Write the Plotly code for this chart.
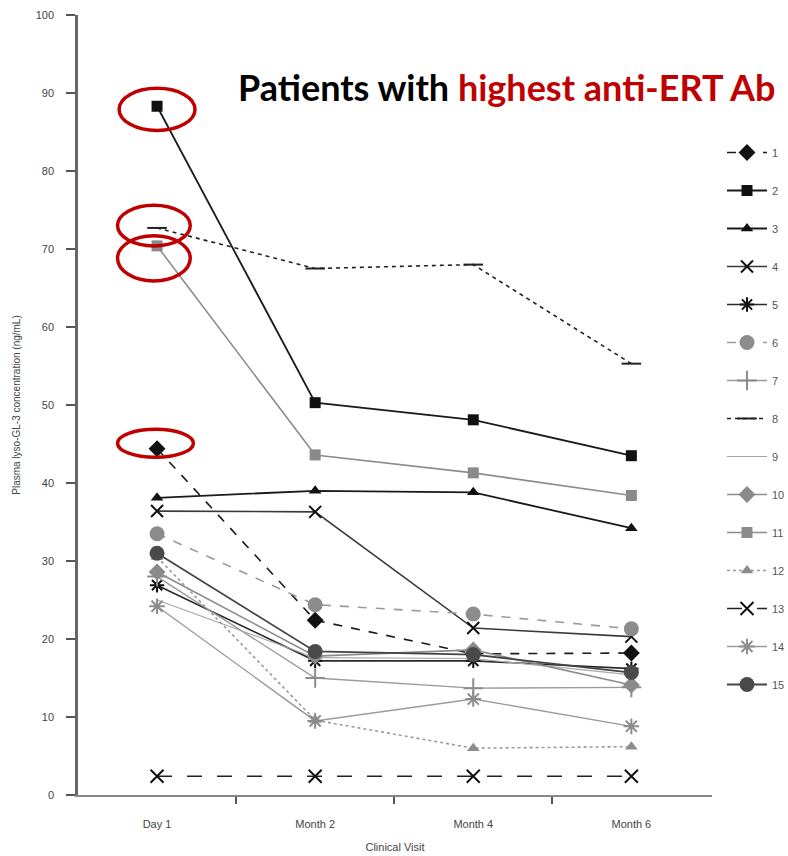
import plotly.graph_objects as go

visits = ["Day 1", "Month 2", "Month 4", "Month 6"]
patient_labels = ["1", "2", "3", "4", "5", "6", "7", "8", "9", "10", "11", "12", "13", "14", "15"]

p1 = [44.4, 22.4, 18.1, 18.2]
p2 = [88.3, 50.3, 48.1, 43.5]
p3 = [38.1, 39.0, 38.8, 34.2]
p4 = [36.4, 36.3, 21.4, 20.3]
p5 = [26.9, 17.2, 17.2, 16.2]
p6 = [33.5, 24.4, 23.2, 21.3]
p7 = [28.0, 15.0, 13.7, 13.8]
p8 = [72.7, 67.5, 68.0, 55.3]
p9 = [25.0, 17.6, 17.5, 15.4]
p10 = [28.6, 17.8, 18.6, 14.1]
p11 = [70.4, 43.6, 41.3, 38.4]
p12 = [30.5, 9.6, 6.0, 6.2]
p13 = [2.4, 2.4, 2.4, 2.4]
p14 = [24.2, 9.5, 12.3, 8.8]
p15 = [31.0, 18.4, 18.0, 15.7]

values = [p1, p2, p3, p4, p5, p6, p7, p8, p9, p10, p11, p12, p13, p14, p15]

# style per patient: (line colour, dash, line width, marker symbol, marker colour, marker size)
styles = [
    ("#1a1a1a", "dash", 1.6, "diamond", "#111111", 13),
    ("#1a1a1a", "solid", 1.8, "square", "#111111", 11),
    ("#1a1a1a", "solid", 1.8, "triangle-up", "#111111", 11),
    ("#3a3a3a", "solid", 1.6, "x-thin-open", "#111111", 12),
    ("#2a2a2a", "solid", 1.6, "asterisk-open", "#111111", 12),
    ("#9a9a9a", "dash", 1.6, "circle", "#8c8c8c", 15),
    ("#9a9a9a", "solid", 1.4, "cross-thin-open", "#8c8c8c", 14),
    ("#222222", "4px,4px", 1.6, "line-ew-open", "#222222", 14),
    ("#a8a8a8", "solid", 1.2, None, "#a8a8a8", 1),
    ("#8c8c8c", "solid", 1.6, "diamond", "#8a8a8a", 13),
    ("#8c8c8c", "solid", 1.6, "square", "#8a8a8a", 11),
    ("#9a9a9a", "dot", 1.6, "triangle-up", "#8c8c8c", 11),
    ("#222222", "longdash", 1.6, "x-thin-open", "#111111", 13),
    ("#9a9a9a", "solid", 1.4, "asterisk-open", "#8c8c8c", 13),
    ("#444444", "solid", 1.8, "circle", "#4a4a4a", 15),
]

xpos = list(range(len(visits)))

fig = go.Figure()
for i, (vals, st) in enumerate(zip(values, styles)):
    lc, dash, lw, sym, mc, ms = st
    if sym is None:
        mode = "lines"
        marker = dict()
    else:
        mode = "lines+markers"
        open_sym = sym.endswith("-open")
        marker = dict(symbol=sym, size=ms, color=mc,
                      line=dict(color=mc, width=2 if open_sym else 0))
    fig.add_trace(go.Scatter(
        x=xpos, y=vals, mode=mode, name=patient_labels[i],
        legendgroup="g%d" % i,
        line=dict(color=lc, dash=dash, width=lw),
        marker=marker,
    ))

# plot area in pixels: x 78..712, y 15..795
L, R, T, B = 78, 712, 15, 795
W, H = 788, 856

def px_x(px):
    return (px - L) / (R - L)

def px_y(py):
    return (B - py) / (B - T)

# red highlight ellipses (data coordinates)
ellipses = [
    (-0.24, 0.24, 90.6, 85.2),
    (-0.25, 0.21, 75.6, 70.4),
    (-0.25, 0.21, 71.7, 65.9),
    (-0.25, 0.23, 46.9, 43.3),
]
for x0, x1, y0, y1 in ellipses:
    fig.add_shape(type="circle", xref="x", yref="y", x0=x0, x1=x1, y0=y0, y1=y1,
                  line=dict(color="#c00000", width=3.5))

fig.add_annotation(
    xref="paper", yref="paper", x=px_x(236), y=px_y(87),
    xanchor="left", yanchor="middle", showarrow=False,
    text='<b>Patients with <span style="color:#c00000">highest anti-ERT Ab</span></b>',
    font=dict(family="Lato", size=36, color="#000000"),
)

fig.update_layout(
    width=W, height=H,
    margin=dict(l=L, r=W - R, t=T, b=H - B, autoexpand=False),
    plot_bgcolor="white", paper_bgcolor="white",
    font=dict(family="Liberation Sans", color="#444444"),
    showlegend=True,
    legend=dict(
        x=px_x(722), y=px_y(138), xanchor="left", yanchor="top",
        traceorder="grouped", tracegroupgap=19,
        font=dict(size=11, color="#555555"),
        bgcolor="rgba(0,0,0,0)", itemwidth=40,
    ),
    xaxis=dict(
        range=[-0.5, 3.51], tickmode="array", tickvals=xpos, ticktext=visits,
        ticks="", showgrid=False, zeroline=False,
        showline=True, linecolor="#888888", linewidth=2,
        tickfont=dict(size=11, color="#444444"), ticklabelstandoff=18,
        minor=dict(tickmode="array", tickvals=[0.5, 1.5, 2.5], ticks="outside",
                   ticklen=7, tickcolor="#555555", tickwidth=1.5, showgrid=False),
        title=dict(text="Clinical Visit", font=dict(size=11, color="#444444"), standoff=14),
    ),
    yaxis=dict(
        range=[0, 100], tickmode="array", tickvals=list(range(0, 101, 10)),
        ticks="outside", ticklen=9, tickcolor="#555555", tickwidth=1.5,
        showgrid=False, zeroline=False,
        showline=True, linecolor="#666666", linewidth=2.5,
        tickfont=dict(size=11, color="#444444"), ticklabelstandoff=10,
        title=dict(text="Plasma lyso-GL-3 concentration (ng/mL)",
                   font=dict(size=10, color="#444444"), standoff=14),
    ),
)

fig.write_html("out.html")
